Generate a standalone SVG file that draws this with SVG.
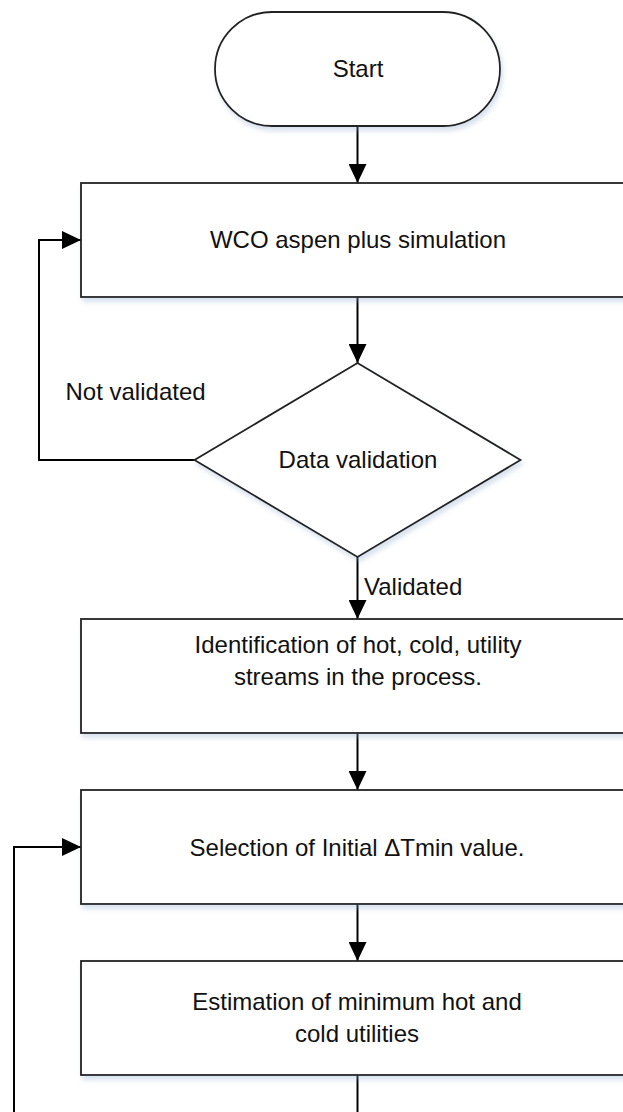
<svg xmlns="http://www.w3.org/2000/svg" width="623" height="1112" viewBox="0 0 623 1112">
<style>
.shape{fill:#fff;stroke:#222;stroke-width:1.8;filter:url(#sh)}
.conn{fill:none;stroke:#000;stroke-width:2}
.t{font-family:"Liberation Sans",Arial,sans-serif;font-size:24px;fill:#111}
.c{text-anchor:middle}
</style>
<defs>
<filter id="sh" x="-10%" y="-10%" width="130%" height="130%">
<feDropShadow dx="2" dy="4" stdDeviation="2.5" flood-color="#8fa9cc" flood-opacity="0.35"/>
</filter>
<marker id="ah" viewBox="0 0 19 18" refX="19" refY="9" markerWidth="19" markerHeight="18" markerUnits="userSpaceOnUse" orient="auto">
<path d="M0,0 L19,9 L0,18 z" fill="#000"/>
</marker>
</defs>
<g id="connectors">
<path class="conn" d="M357.5,126 V183" marker-end="url(#ah)"/>
<path class="conn" d="M357.5,297 V363" marker-end="url(#ah)"/>
<path class="conn" d="M357.5,557 V619" marker-end="url(#ah)"/>
<path class="conn" d="M357.5,733 V790" marker-end="url(#ah)"/>
<path class="conn" d="M357.5,904 V961" marker-end="url(#ah)"/>
<path class="conn" d="M357.5,1074 V1112"/>
<path class="conn" d="M195,460 H39 V240 H81" marker-end="url(#ah)"/>
<path class="conn" d="M14,1112 V847 H81" marker-end="url(#ah)"/>
<text class="t" x="65.5" y="400">Not validated</text>
<text class="t" x="364" y="595">Validated</text>
</g>
<g id="start">
<rect class="shape" x="215" y="12" width="285" height="114" rx="57" ry="57"/>
<text class="t c" x="358" y="77">Start</text>
</g>
<g id="simulation">
<rect class="shape" x="81" y="183" width="552" height="114"/>
<text class="t c" x="358" y="248">WCO aspen plus simulation</text>
</g>
<g id="validation">
<polygon class="shape" points="357.5,363 520.5,460 357.5,557 194.5,460"/>
<text class="t c" x="358" y="468">Data validation</text>
</g>
<g id="identification">
<rect class="shape" x="81" y="619" width="552" height="114"/>
<text class="t c" x="358" y="653">Identification of hot, cold, utility</text>
<text class="t c" x="358" y="685">streams in the process.</text>
</g>
<g id="selection">
<rect class="shape" x="81" y="790" width="552" height="114"/>
<text class="t c" x="357" y="856">Selection of Initial ΔTmin value.</text>
</g>
<g id="estimation">
<rect class="shape" x="81" y="961" width="552" height="114"/>
<text class="t c" x="357" y="1010">Estimation of minimum hot and</text>
<text class="t c" x="357" y="1042">cold utilities</text>
</g>
</svg>
